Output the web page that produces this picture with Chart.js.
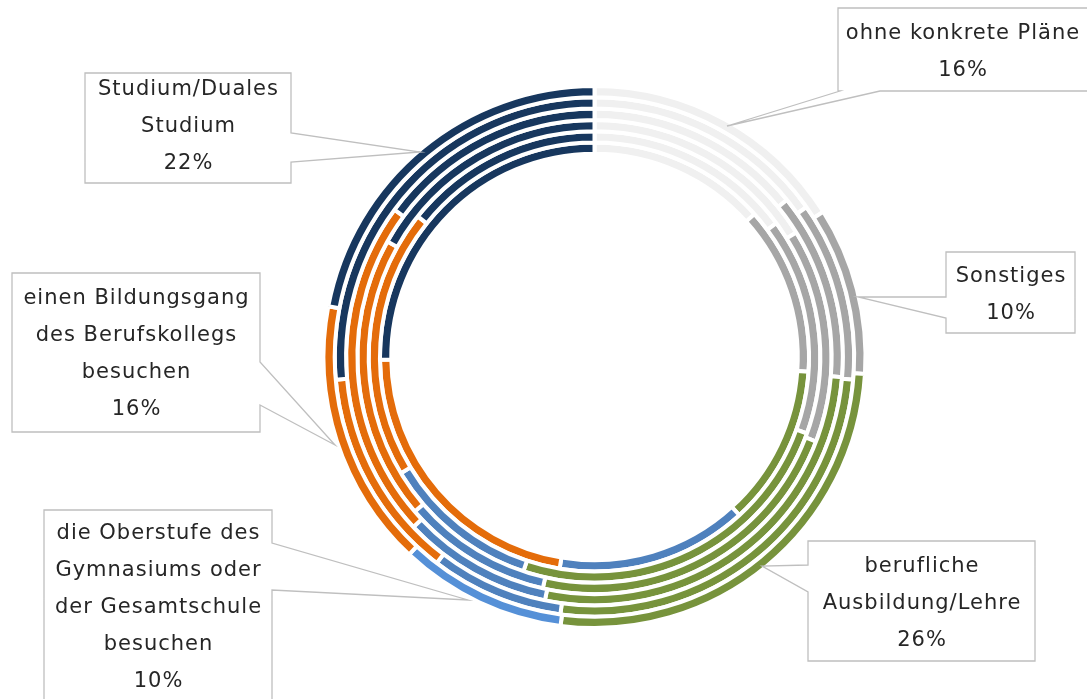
<!DOCTYPE html>
<html>
<head>
<meta charset="utf-8">
<script src="https://cdn.jsdelivr.net/npm/chart.js@4.4.1/dist/chart.umd.min.js"></script>
<style>
  html, body { margin: 0; padding: 0; background: #fff; }
  #wrap { width: 1087px; height: 699px; position: relative; }
</style>
</head>
<body>
<div id="wrap"><canvas id="chart" width="1087" height="699"></canvas></div>
<script>
// categories, clockwise from 12 o'clock
const categories = [
  "ohne konkrete Pläne",
  "Sonstiges",
  "berufliche Ausbildung/Lehre",
  "die Oberstufe des Gymnasiums oder der Gesamtschule besuchen",
  "einen Bildungsgang des Berufskollegs besuchen",
  "Studium/Duales Studium"
];

// one array per ring, outer ring first (values in %)
const ring1 = [16, 10, 26, 10, 16, 22];
const ring2 = [15.2, 11.2, 25.7, 8.3, 13.2, 26.4];
const ring3 = [14.1, 12.2, 26.9, 9.8, 22.1, 14.9];
const ring4 = [16.2, 14.6, 22.7, 10.2, 19.4, 16.9];
const ring5 = [14.9, 15.6, 24.6, 11.3, 19.3, 14.3];
const ring6 = [13.4, 12.7, 12.1, 14.4, 22.2, 25.2];

const colors = ["#F0F0F0", "#A6A6A6", "#77933C", "#4F81BD", "#E46C0A", "#17375E"];
const outerColors = ["#F0F0F0", "#A6A6A6", "#77933C", "#5590D7", "#E46C0A", "#17375E"];

const rings = [ring1, ring2, ring3, ring4, ring5, ring6];

// callout boxes (label text for the outer ring)
const callouts = [
  { lines: ["ohne konkrete Pläne"], idx: 0, box: [838, 8, 1092, 91], side: "bottom", base: [840, 880], tip: [727, 126], dy: 3 },
  { lines: ["Sonstiges"], idx: 1, box: [946, 252, 1075, 333], side: "left", base: [297, 318], tip: [858, 297], dy: 3 },
  { lines: ["berufliche", "Ausbildung/Lehre"], idx: 2, box: [808, 541, 1035, 661], side: "left", base: [565, 592], tip: [762, 566], dy: 3 },
  { lines: ["die Oberstufe des", "Gymnasiums oder", "der Gesamtschule", "besuchen"], idx: 3, box: [44, 510, 272, 701], side: "right", base: [543, 590], tip: [468, 600], dy: 2 },
  { lines: ["einen Bildungsgang", "des Berufskollegs", "besuchen"], idx: 4, box: [12, 273, 260, 432], side: "right", base: [362, 405], tip: [335, 445], dy: 2 },
  { lines: ["Studium/Duales", "Studium"], idx: 5, box: [85, 73, 291, 183], side: "right", base: [133, 162], tip: [420, 152], dy: -1 }
];

const calloutPlugin = {
  id: "callouts",
  afterDraw(chart) {
    const ctx = chart.ctx;
    ctx.save();
    ctx.font = "21px 'DejaVu Sans'";
    ctx.letterSpacing = "1px";
    ctx.textAlign = "center";
    ctx.textBaseline = "middle";
    callouts.forEach(c => {
      const [x1, y1, x2, y2] = c.box;
      ctx.beginPath();
      ctx.moveTo(x1, y1);
      ctx.lineTo(x2, y1);
      if (c.side === "right") {
        ctx.lineTo(x2, c.base[0]);
        ctx.lineTo(c.tip[0], c.tip[1]);
        ctx.lineTo(x2, c.base[1]);
      }
      ctx.lineTo(x2, y2);
      if (c.side === "bottom") {
        ctx.lineTo(c.base[1], y2);
        ctx.lineTo(c.tip[0], c.tip[1]);
        ctx.lineTo(c.base[0], y2);
      }
      ctx.lineTo(x1, y2);
      if (c.side === "left") {
        ctx.lineTo(x1, c.base[1]);
        ctx.lineTo(c.tip[0], c.tip[1]);
        ctx.lineTo(x1, c.base[0]);
      }
      ctx.closePath();
      ctx.strokeStyle = "#BFBFBF";
      ctx.lineWidth = 1.3;
      ctx.stroke();

      // label lines plus the outer ring value, centred in the box
      const texts = c.lines.concat([Math.round(ring1[c.idx]) + "%"]);
      const cx = (x1 + Math.min(x2, 1087)) / 2 + 0.5;
      const lh = 37;
      const top = (y1 + y2) / 2 - (texts.length - 1) * lh / 2 + c.dy;
      ctx.fillStyle = "#262626";
      texts.forEach((t, i) => ctx.fillText(t, cx, top + i * lh));
    });
    ctx.restore();
  }
};

new Chart(document.getElementById("chart").getContext("2d"), {
  type: "doughnut",
  data: {
    labels: categories,
    datasets: rings.map((r, i) => ({
      data: r,
      backgroundColor: i === 0 ? outerColors : colors,
      borderColor: "#ffffff",
      borderWidth: 4
    }))
  },
  options: {
    responsive: false,
    animation: false,
    radius: 271,
    cutout: "75%",
    layout: { padding: { left: 102, right: 0, top: 15, bottom: 0 } },
    plugins: {
      legend: { display: false },
      tooltip: { enabled: false }
    }
  },
  plugins: [calloutPlugin]
});
</script>
</body>
</html>
